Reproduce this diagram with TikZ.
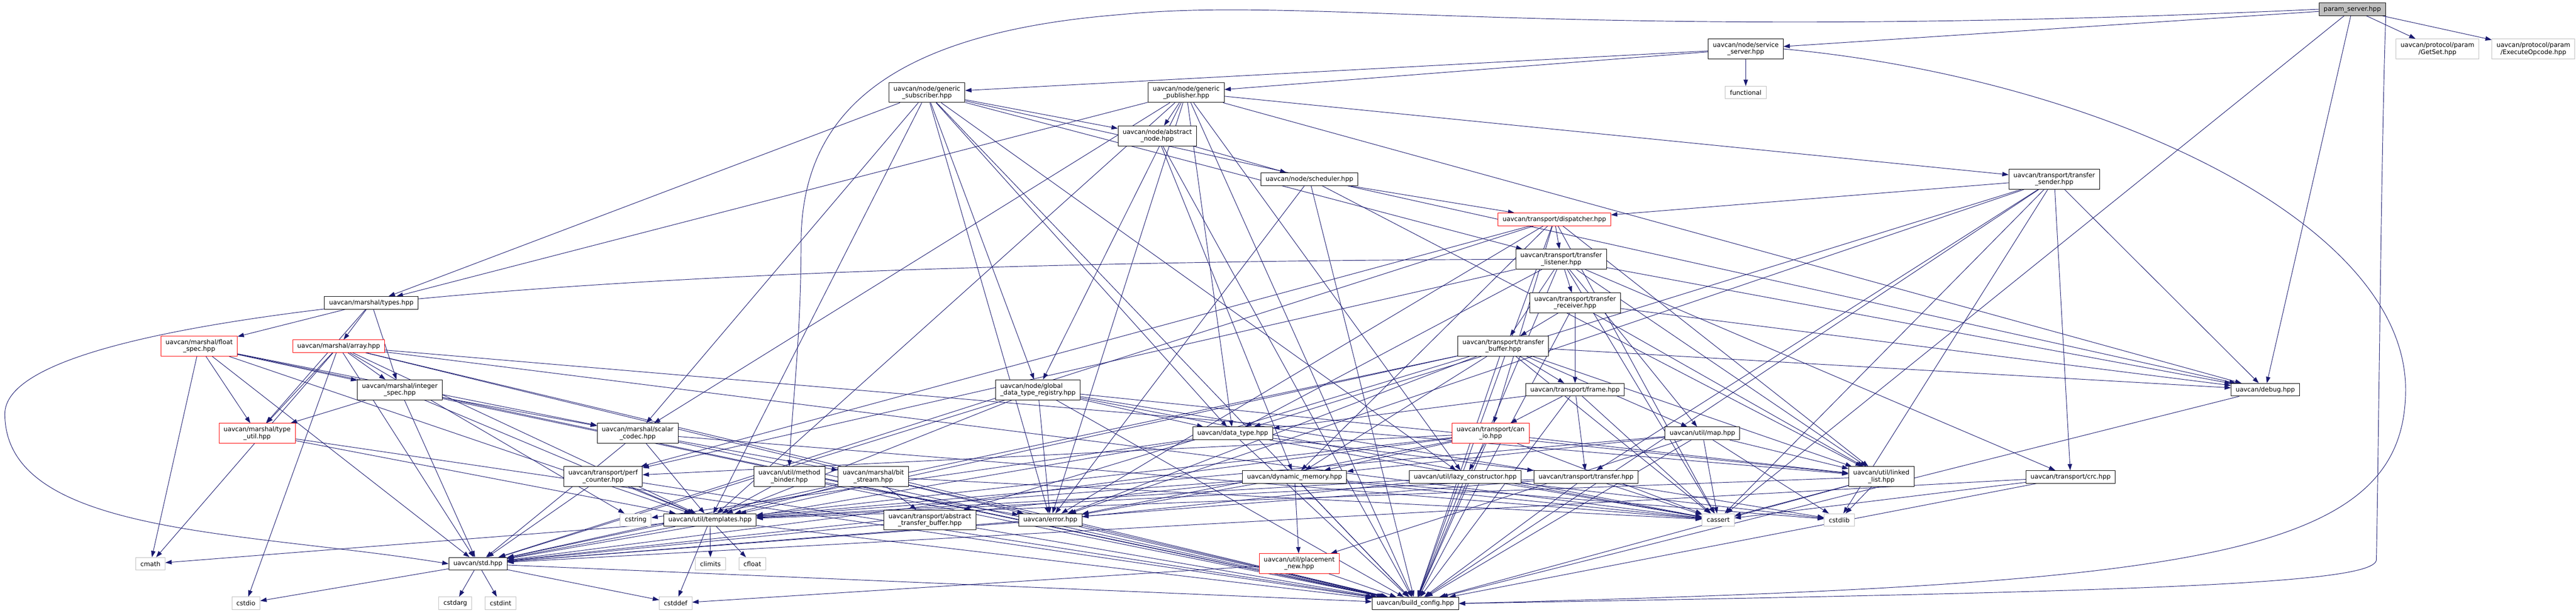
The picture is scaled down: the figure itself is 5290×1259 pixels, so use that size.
\documentclass[tikz,border=0pt]{standalone}
\usepackage{fontspec}
\setmainfont{DejaVu Sans}
\usetikzlibrary{arrows.meta,backgrounds}
\definecolor{midnight}{RGB}{25,25,112}
\definecolor{grey75}{RGB}{191,191,191}
\begin{document}
\begin{tikzpicture}[x=1pt,y=-1pt,
	hdr/.style={draw=black,fill=white,line width=1pt,inner xsep=9.5pt,inner ysep=2pt,
		minimum height=26pt,align=center,font=\fontsize{13}{14}\selectfont},
	twoline/.style={minimum height=41pt},
	syshdr/.style={hdr,draw=grey75},
	cuthdr/.style={hdr,draw=red},
	roothdr/.style={hdr,fill=grey75},
	inc/.style={draw=midnight,line width=1pt,-{Triangle[length=13pt,width=9pt]}}]
	\useasboundingbox (0,0) rectangle (5290,1259);
	\node[roothdr] (param) at (4830.5,19) {param\_server.hpp};
	\node[syshdr,twoline] (getset) at (5005.5,100.5) {uavcan/protocol/param\\/GetSet.hpp};
	\node[syshdr,twoline] (execop) at (5202.5,100.5) {uavcan/protocol/param\\/ExecuteOpcode.hpp};
	\node[hdr,twoline] (srvserver) at (3585,100.5) {uavcan/node/service\\\_server.hpp};
	\node[syshdr] (functional) at (3585,190) {functional};
	\node[hdr,twoline] (gensub) at (1903.5,190) {uavcan/node/generic\\\_subscriber.hpp};
	\node[hdr,twoline] (genpub) at (2436,190) {uavcan/node/generic\\\_publisher.hpp};
	\node[hdr,twoline] (absnode) at (2376.5,279) {uavcan/node/abstract\\\_node.hpp};
	\node[hdr] (scheduler) at (2689,368) {uavcan/node/scheduler.hpp};
	\node[hdr,twoline] (sender) at (4218.5,368) {uavcan/transport/transfer\\\_sender.hpp};
	\node[cuthdr] (dispatcher) at (3192,450.5) {uavcan/transport/dispatcher.hpp};
	\node[hdr,twoline] (listener) at (3206,532.5) {uavcan/transport/transfer\\\_listener.hpp};
	\node[hdr] (types) at (762.5,622) {uavcan/marshal/types.hpp};
	\node[hdr,twoline] (receiver) at (3234.5,622) {uavcan/transport/transfer\\\_receiver.hpp};
	\node[cuthdr,twoline] (floatspec) at (409,711) {uavcan/marshal/float\\\_spec.hpp};
	\node[cuthdr] (array) at (695.5,711) {uavcan/marshal/array.hpp};
	\node[hdr,twoline] (buffer) at (3087,711) {uavcan/transport/transfer\\\_buffer.hpp};
	\node[hdr,twoline] (intspec) at (821,800.5) {uavcan/marshal/integer\\\_spec.hpp};
	\node[hdr,twoline,align=left] (registry) at (2131.5,800.5) {uavcan/node/global\\\_data\_type\_registry.hpp};
	\node[hdr] (frame) at (3234.5,800.5) {uavcan/transport/frame.hpp};
	\node[hdr] (debug) at (4652,800.5) {uavcan/debug.hpp};
	\node[cuthdr,twoline] (typeutil) at (528,890) {uavcan/marshal/type\\\_util.hpp};
	\node[hdr,twoline] (scalar) at (1309.5,890) {uavcan/marshal/scalar\\\_codec.hpp};
	\node[hdr] (datatype) at (2531.5,890) {uavcan/data\_type.hpp};
	\node[cuthdr,twoline] (canio) at (3061,890) {uavcan/transport/can\\\_io.hpp};
	\node[hdr] (map) at (3496,890) {uavcan/util/map.hpp};
	\node[hdr,twoline] (perf) at (1238.5,979) {uavcan/transport/perf\\\_counter.hpp};
	\node[hdr,twoline] (binder) at (1621,979) {uavcan/util/method\\\_binder.hpp};
	\node[hdr,twoline] (bitstream) at (1793.5,979) {uavcan/marshal/bit\\\_stream.hpp};
	\node[hdr] (dynmem) at (2658.5,979.5) {uavcan/dynamic\_memory.hpp};
	\node[hdr] (lazy) at (3009,979.5) {uavcan/util/lazy\_constructor.hpp};
	\node[hdr] (transfer) at (3257,979.5) {uavcan/transport/transfer.hpp};
	\node[hdr,twoline] (linked) at (3863.5,979) {uavcan/util/linked\\\_list.hpp};
	\node[hdr] (crc) at (4252,979.5) {uavcan/transport/crc.hpp};
	\node[syshdr] (cstring) at (1305.5,1068) {cstring};
	\node[hdr] (templates) at (1458,1068) {uavcan/util/templates.hpp};
	\node[hdr,twoline] (absbuf) at (1909.5,1068) {uavcan/transport/abstract\\\_transfer\_buffer.hpp};
	\node[hdr] (error) at (2157,1068) {uavcan/error.hpp};
	\node[syshdr] (cassert) at (3528.5,1068) {cassert};
	\node[syshdr] (cstdlib) at (3777,1068) {cstdlib};
	\node[syshdr] (cmath) at (309,1158) {cmath};
	\node[hdr] (std) at (981.5,1158) {uavcan/std.hpp};
	\node[syshdr] (climits) at (1459,1158) {climits};
	\node[syshdr] (cfloat) at (1545,1158) {cfloat};
	\node[cuthdr,twoline] (placement) at (2668,1157.5) {uavcan/util/placement\\\_new.hpp};
	\node[syshdr] (cstdio) at (505,1239) {cstdio};
	\node[syshdr] (cstdarg) at (935,1239) {cstdarg};
	\node[syshdr] (cstdint) at (1028,1239) {cstdint};
	\node[syshdr] (cstddef) at (1387.5,1239) {cstddef};
	\node[hdr] (buildcfg) at (2906.5,1239.5) {uavcan/build\_config.hpp};
	\begin{scope}[on background layer]
		\fill[white] (0,0) rectangle (5290,1259);
		\foreach \dst in {getset,execop,srvserver,debug,cassert}
			\draw[inc] (param) -- (\dst);
		\draw[inc] (param.west) .. controls (3200,90) and (2700,-10) .. (2300,30)
			.. controls (1800,70) and (1645,250) .. (1645,500)
			.. controls (1645,700) and (1625,850) .. (binder.north);
		\draw[inc] (param.south east) .. controls (4890,300) and (4885,900) .. (4880,1150)
			.. controls (4875,1200) and (4400,1215) .. (buildcfg.east);
		\foreach \dst in {functional,gensub,genpub}
			\draw[inc] (srvserver) -- (\dst);
		\draw[inc] (srvserver.east) .. controls (4300,160) and (4940,450) .. (4940,800)
			.. controls (4940,1150) and (4500,1200) .. (buildcfg.east);
		\foreach \dst in {absnode,listener,types,scalar,registry,datatype,templates,lazy,error,debug,buildcfg}
			\draw[inc] (gensub) -- (\dst);
		\foreach \dst in {absnode,sender,types,scalar,registry,datatype,templates,lazy,error,debug,buildcfg}
			\draw[inc] (genpub) -- (\dst);
		\foreach \dst in {scheduler,dynmem,buildcfg}
			\draw[inc] (absnode) -- (\dst);
		\foreach \dst in {dispatcher,linked,error,buildcfg}
			\draw[inc] (scheduler) -- (\dst);
		\foreach \dst in {dispatcher,crc,transfer,datatype,error,debug,cstdlib,cassert,buildcfg}
			\draw[inc] (sender) -- (\dst);
		\foreach \dst in {listener,canio,perf,linked,dynmem,error,std,cassert,buildcfg}
			\draw[inc] (dispatcher) -- (\dst);
		\foreach \dst in {receiver,buffer,perf,crc,map,linked,datatype,debug,cassert,buildcfg}
			\draw[inc] (listener) -- (\dst);
		\draw[inc] (listener.west) .. controls (1200,540) and (10,640) .. (10,850)
			.. controls (10,1100) and (500,1090) .. (std.west);
		\foreach \dst in {buffer,frame,debug,linked,buildcfg}
			\draw[inc] (receiver) -- (\dst);
		\foreach \dst in {frame,absbuf,linked,dynmem,map,debug,templates,std,error,cassert,buildcfg}
			\draw[inc] (buffer) -- (\dst);
		\foreach \dst in {canio,transfer,datatype,cassert,buildcfg}
			\draw[inc] (frame) -- (\dst);
		\foreach \dst in {lazy,dynmem,perf,linked,templates,std,error,cassert,buildcfg}
			\draw[inc] (canio) -- (\dst);
		\foreach \dst in {transfer,cassert,cstring,std,buildcfg}
			\draw[inc] (datatype) -- (\dst);
		\foreach \dst in {datatype,linked,error,std,templates,cassert,cstdlib,buildcfg}
			\draw[inc] (registry) -- (\dst);
		\foreach \dst in {floatspec,array,intspec,typeutil}
			\draw[inc] (types) -- (\dst);
		\foreach \dst in {typeutil,intspec,scalar,cmath,std,templates,buildcfg}
			\draw[inc] (floatspec) -- (\dst);
		\foreach \dst in {intspec,typeutil,templates,linked,error,std,cassert,cstring,cstdio,cmath,buildcfg}
			\draw[inc] (array) -- (\dst);
		\foreach \dst in {scalar,typeutil,templates,std,buildcfg}
			\draw[inc] (intspec) -- (\dst);
		\foreach \dst in {templates,buildcfg}
			\draw[inc] (typeutil) -- (\dst);
		\foreach \dst in {bitstream,templates,std,cassert,buildcfg}
			\draw[inc] (scalar) -- (\dst);
		\foreach \dst in {absbuf,templates,std,cassert,buildcfg}
			\draw[inc] (bitstream) -- (\dst);
		\foreach \dst in {templates,error,buildcfg}
			\draw[inc] (binder) -- (\dst);
		\foreach \dst in {std,templates,buildcfg}
			\draw[inc] (perf) -- (\dst);
		\foreach \dst in {placement,templates,error,std,cstdlib,cassert,buildcfg}
			\draw[inc] (dynmem) -- (\dst);
		\foreach \dst in {templates,error,cstdlib,cassert,buildcfg}
			\draw[inc] (lazy) -- (\dst);
		\foreach \dst in {std,templates,cassert,buildcfg}
			\draw[inc] (transfer) -- (\dst);
		\foreach \dst in {templates,cassert,cstdlib,buildcfg}
			\draw[inc] (linked) -- (\dst);
		\foreach \dst in {linked,dynmem,templates,placement,cassert,cstdlib,buildcfg}
			\draw[inc] (map) -- (\dst);
		\foreach \dst in {std,cassert,buildcfg}
			\draw[inc] (crc) -- (\dst);
		\foreach \dst in {std,buildcfg}
			\draw[inc] (absbuf) -- (\dst);
		\foreach \dst in {std,buildcfg}
			\draw[inc] (error) -- (\dst);
		\foreach \dst in {climits,cfloat,cstddef,cmath,std,buildcfg}
			\draw[inc] (templates) -- (\dst);
		\foreach \dst in {cstddef,buildcfg}
			\draw[inc] (placement) -- (\dst);
		\foreach \dst in {cstdio,cstdarg,cstdint,cstddef,buildcfg}
			\draw[inc] (std) -- (\dst);
		\draw[inc] (debug) -- (buildcfg);
	\end{scope}
\end{tikzpicture}
\end{document}
